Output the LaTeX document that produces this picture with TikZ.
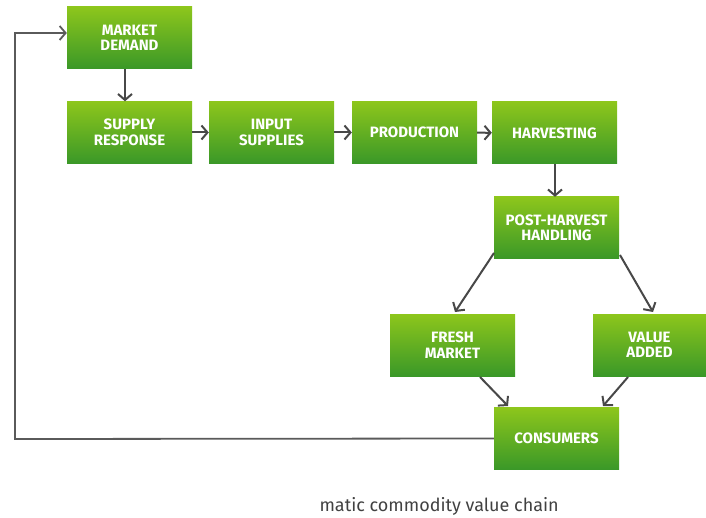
\documentclass[tikz,border=0pt]{standalone}
\usepackage{fontspec}
\setmainfont{Fira Sans}
\usetikzlibrary{arrows.meta}
\definecolor{boxtop}{RGB}{141,198,28}
\definecolor{boxbot}{RGB}{58,152,40}
\definecolor{arrowgray}{RGB}{72,72,72}
\begin{document}
\begin{tikzpicture}[x=1pt,y=-1pt,
    stage/.style={rectangle,top color=boxtop,bottom color=boxbot,text=white,
      font=\fontsize{15}{15.5}\selectfont\bfseries,align=center,inner sep=0pt,
      minimum width=125pt,minimum height=62pt},
    flow/.style={-{Straight Barb[length=6pt,width=14pt,line width=2pt]},draw=arrowgray,line width=2pt},
    loop/.style={-{Straight Barb[length=6pt,width=14pt,line width=1.8pt]},draw=arrowgray!90,line width=1.8pt}]
  \useasboundingbox (0,0) rectangle (706,518);
  \node[stage] (demand) at (129.5,38) {MARKET\\DEMAND};
  \node[stage] (supply) at (129.5,132.5) {SUPPLY\\RESPONSE};
  \node[stage] (inputs) at (271.5,132.5) {INPUT\\SUPPLIES};
  \node[stage] (production) at (414.5,132.5) {PRODUCTION};
  \node[stage] (harvest) at (554.5,133) {HARVESTING};
  \node[stage] (postharvest) at (556.5,228) {POST-HARVEST\\HANDLING};
  \node[stage] (fresh) at (452.5,345) {FRESH\\MARKET};
  \node[stage,minimum width=113pt] (added) at (649.5,345) {VALUE\\ADDED};
  \node[stage] (consumers) at (556.5,438.5) {CONSUMERS};
  \node[anchor=base west,text=arrowgray!90!black,font=\fontsize{18}{20}\selectfont] (caption) at (316,511) {matic commodity value chain};
  \coordinate (loopbottom) at (15,439);
  \coordinate (looptop) at (15,33);
  \begin{scope}[flow]
    \draw (demand.south -| 125,0) -- (supply.north -| 125,0);
    \draw (supply) -- (inputs);
    \draw (inputs) -- (production);
    \draw (production) -- (harvest);
    \draw (harvest.south -| 555,0) -- (postharvest.north -| 555,0);
    \draw (494,253) -- (455,312);
    \draw (620,255) -- (653,312);
    \draw (480,377) -- (508,406);
    \draw (628,377) -- (603,406);
  \end{scope}
  \draw[loop] (consumers.west) -- (loopbottom) -- (looptop) -- (demand.west |- looptop);
\end{tikzpicture}
\end{document}
